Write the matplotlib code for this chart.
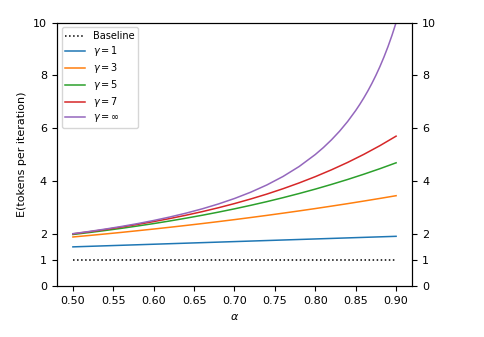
import matplotlib
matplotlib.use("Agg")
import matplotlib.pyplot as plt

# values
alpha = [0.50, 0.52, 0.54, 0.56, 0.58, 0.60, 0.62, 0.64, 0.66, 0.68, 0.70,
         0.72, 0.74, 0.76, 0.78, 0.80, 0.82, 0.84, 0.86, 0.88, 0.90]

baseline = [1.0] * len(alpha)
gamma_1 = [1.50, 1.52, 1.54, 1.56, 1.58, 1.60, 1.62, 1.64, 1.66, 1.68, 1.70,
           1.72, 1.74, 1.76, 1.78, 1.80, 1.82, 1.84, 1.86, 1.88, 1.90]
gamma_3 = [1.875, 1.931, 1.989, 2.049, 2.112, 2.176, 2.243, 2.312, 2.383, 2.457, 2.533,
           2.612, 2.693, 2.777, 2.863, 2.952, 3.044, 3.138, 3.236, 3.336, 3.439]
gamma_5 = [1.969, 2.042, 2.120, 2.202, 2.291, 2.383, 2.482, 2.587, 2.698, 2.816, 2.941,
           3.074, 3.214, 3.364, 3.522, 3.689, 3.867, 4.054, 4.253, 4.463, 4.686]
gamma_7 = [1.992, 2.072, 2.158, 2.250, 2.351, 2.458, 2.574, 2.700, 2.835, 2.982, 3.141,
           3.314, 3.500, 3.703, 3.923, 4.161, 4.420, 4.700, 5.005, 5.336, 5.696]

# the steep gamma=inf curve is read at a finer step near the right end
alpha_inf = [0.50, 0.52, 0.54, 0.56, 0.58, 0.60, 0.62, 0.64, 0.66, 0.68, 0.70,
             0.72, 0.74, 0.76, 0.78, 0.80, 0.81, 0.82, 0.83, 0.84, 0.85,
             0.855, 0.86, 0.865, 0.87, 0.875, 0.88, 0.885, 0.89, 0.895, 0.90]
gamma_inf = [2.000, 2.083, 2.174, 2.273, 2.381, 2.500, 2.632, 2.778, 2.941, 3.125, 3.333,
             3.571, 3.846, 4.167, 4.545, 5.000, 5.263, 5.556, 5.882, 6.250, 6.667,
             6.897, 7.143, 7.407, 7.692, 8.000, 8.333, 8.696, 9.091, 9.524, 10.000]

series = [
    (alpha, gamma_1, r"$\gamma = 1$"),
    (alpha, gamma_3, r"$\gamma = 3$"),
    (alpha, gamma_5, r"$\gamma = 5$"),
    (alpha, gamma_7, r"$\gamma = 7$"),
    (alpha_inf, gamma_inf, r"$\gamma = \infty$"),
]
y_ticks = [0, 1, 2, 4, 6, 8, 10]

plt.rcParams["font.size"] = 8

fig = plt.figure(figsize=(4.85, 3.37), dpi=100)
ax = fig.add_axes([0.117, 0.150, 0.733, 0.783])

ax.plot(alpha, baseline, "k:", lw=1.1, label="Baseline")
for xs, vals, lab in series:
    ax.plot(xs, vals, lw=1.1, label=lab)

ax.set_ylim(0, 10)
ax.set_yticks(y_ticks)
ax.set_xticks([0.50, 0.55, 0.60, 0.65, 0.70, 0.75, 0.80, 0.85, 0.90])
ax.set_xlabel(r"$\alpha$")
ax.set_ylabel("E(tokens per iteration)")
ax.legend(loc="upper left", fontsize=7, labelspacing=0.3)

ax2 = ax.twinx()
ax2.set_ylim(0, 10)
ax2.set_yticks(y_ticks)

fig.savefig("out.png", dpi=100)
